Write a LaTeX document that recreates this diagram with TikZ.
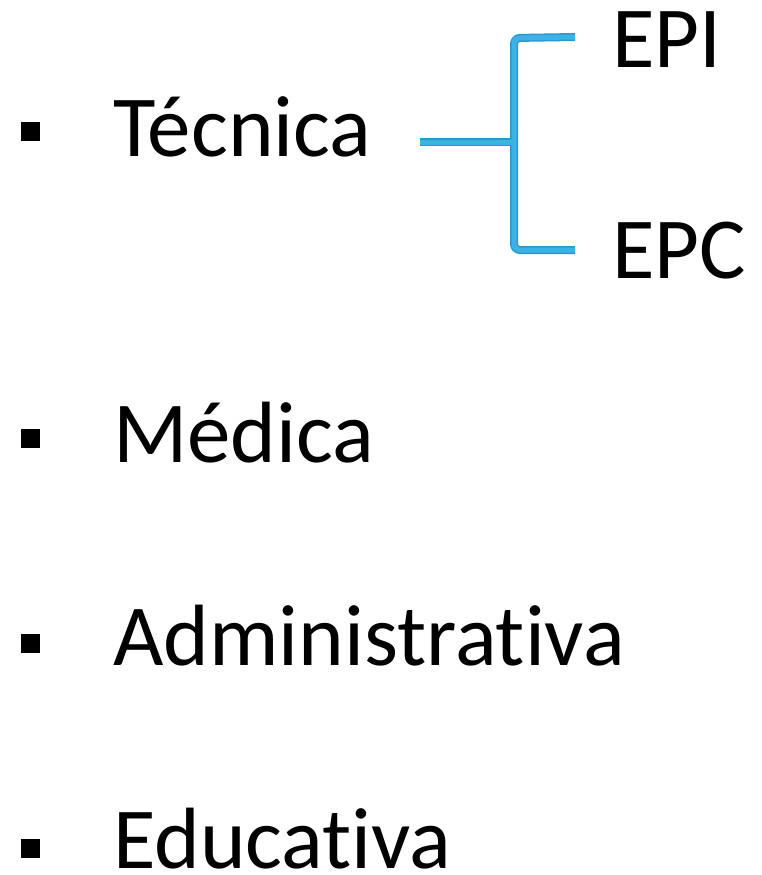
\documentclass[tikz,border=0pt]{standalone}
\usepackage{fontspec}
\setmainfont{Carlito}[Ligatures={NoCommon,NoContextual}]
\definecolor{bracketblue}{RGB}{62,178,230}
\definecolor{bracketedge}{RGB}{42,152,208}

\begin{document}
\begin{tikzpicture}[x=1pt,y=-1pt,
  item/.style={anchor=base west,inner sep=0pt,font=\fontsize{87}{100}\selectfont},
  bullet/.style={fill=black,inner sep=0pt,minimum size=19pt},
  brace/.style={bracketedge,line width=8pt,rounded corners=6pt},
  braceinner/.style={bracketblue,line width=5pt,rounded corners=6pt}]
  \useasboundingbox (0,0) rectangle (761,875);

  \node[bullet] (b1) at (30.5,131.5) {};
  \node[bullet] (b2) at (30.5,438) {};
  \node[bullet] (b3) at (30.5,643) {};
  \node[bullet] (b4) at (30.5,848) {};

  \node[item] (tecnica) at (113,156) {Técnica};
  \node[item] (medica) at (113,462) {Médica};
  \node[item] (admin) at (113,665) {Administrativa};
  \node[item] (educ) at (113,868) {Educativa};

  \node[item] (epi) at (612,67) {EPI};
  \node[item] (epc) at (612,278) {EPC};

  \coordinate (s) at (420,142);
  \coordinate (m) at (514,142);
  \coordinate (t) at (575,37);
  \coordinate (u) at (514,38);
  \coordinate (v) at (514,250);
  \coordinate (w) at (575,250);

  \foreach \st in {brace,braceinner}{
    \draw[\st] (s) -- (m);
    \draw[\st] (t) -- (u) -- (v) -- (w);
  }
\end{tikzpicture}
\end{document}
